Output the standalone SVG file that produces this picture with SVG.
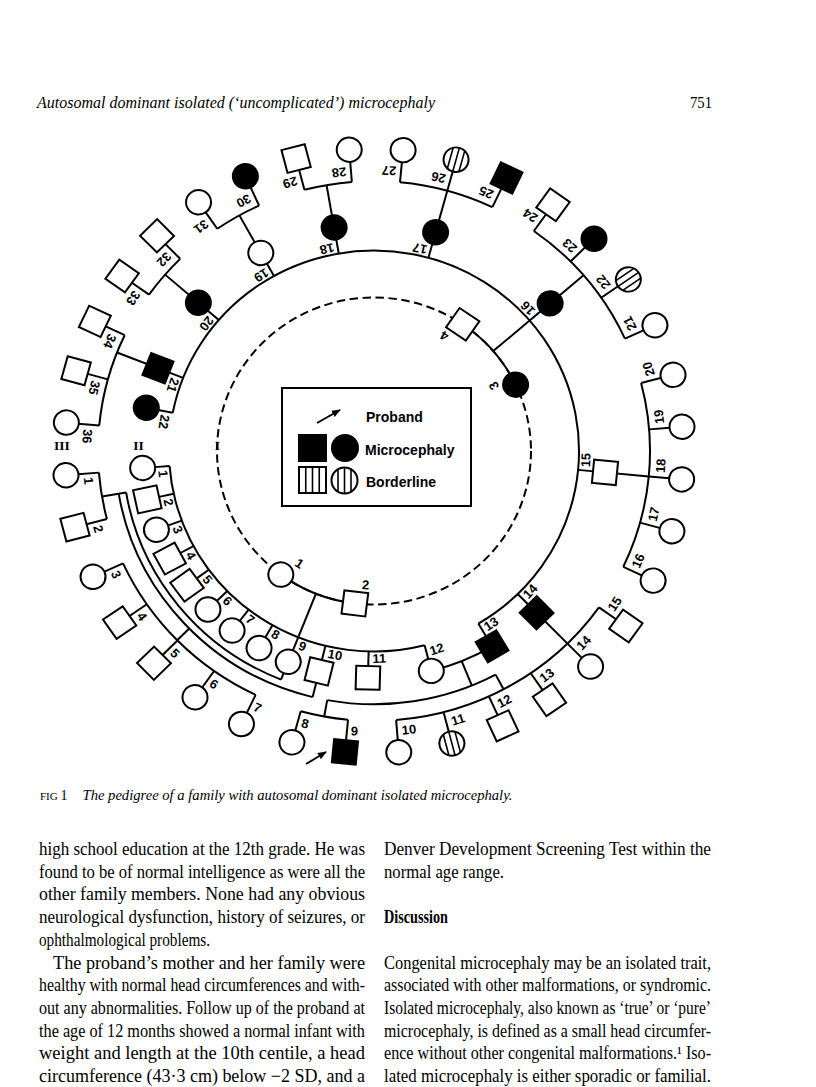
<svg xmlns="http://www.w3.org/2000/svg" width="816" height="1087" viewBox="0 0 816 1087">
<style>
.ln{fill:none;stroke:#000;stroke-width:2}
.o{fill:#fff;stroke:#000;stroke-width:2}
.f{fill:#000;stroke:#000;stroke-width:2}
.st{stroke:#000;stroke-width:1.6}
.lb{font-family:"Liberation Sans",Arial,sans-serif;font-weight:bold;font-size:13px;text-anchor:middle;dominant-baseline:central}
.lg{font-family:"Liberation Sans",Arial,sans-serif;font-weight:bold;font-size:14px}
.rn{font-family:"Liberation Serif","Times New Roman",serif;font-weight:bold;font-size:13.5px;text-anchor:middle}
.bt{font-family:"Liberation Serif","Times New Roman",serif;font-size:18px}
</style>
<defs>
<marker id="ah" viewBox="0 0 10 10" refX="9" refY="5" markerWidth="9" markerHeight="9" orient="auto" markerUnits="userSpaceOnUse"><path d="M0,1 L10,5 L0,9 z"/></marker>
<g id="sc"><circle cx="0" cy="0" r="12.5" class="o"/><line x1="-10.97" y1="-6" x2="10.97" y2="-6" class="st"/><line x1="-12.5" y1="0" x2="12.5" y2="0" class="st"/><line x1="-10.97" y1="6" x2="10.97" y2="6" class="st"/></g>
</defs>
<rect width="816" height="1087" fill="#fff"/>

<text x="37" y="108" font-family="Liberation Serif,serif" font-style="italic" font-size="16.5" textLength="398" lengthAdjust="spacingAndGlyphs">Autosomal dominant isolated (‘uncomplicated’) microcephaly</text>
<text x="690" y="108" font-family="Liberation Serif,serif" font-size="16.5" textLength="22" lengthAdjust="spacingAndGlyphs">751</text>

<g transform="translate(374 451) scale(1 0.978)">
<g id="connectors">
<circle r="157" class="ln" stroke-dasharray="8.5 4.5"/>
<circle r="157" class="ln" pathLength="360" stroke-dasharray="29.4 400" transform="rotate(97)"/>
<circle r="157" class="ln" pathLength="360" stroke-dasharray="30 400" transform="rotate(-55.6)"/>
<line x1="157" x2="205" class="ln" transform="rotate(111.7)"/>
<line x1="157" x2="205" class="ln" transform="rotate(-40.6)"/>
<circle r="205" class="ln" pathLength="360" stroke-dasharray="100 400" transform="rotate(75.7)"/>
<circle r="205" class="ln" pathLength="360" stroke-dasharray="228.4 400" transform="rotate(-169)"/>
<g class="ln">
<line x1="205" x2="220" transform="rotate(175.7)"/>
<line x1="205" x2="220" transform="rotate(167.7)"/>
<line x1="205" x2="220" transform="rotate(159.7)"/>
<line x1="205" x2="220" transform="rotate(151.7)"/>
<line x1="205" x2="220" transform="rotate(143.7)"/>
<line x1="205" x2="220" transform="rotate(135.7)"/>
<line x1="205" x2="220" transform="rotate(127.7)"/>
<line x1="205" x2="220" transform="rotate(119.7)"/>
<line x1="205" x2="251.5" transform="rotate(111.7)"/>
<line x1="205" x2="259" transform="rotate(103.7)"/>
<line x1="205" x2="220" transform="rotate(91.5)"/>
<line x1="205" x2="220" transform="rotate(75.7)"/>
<line x1="205" x2="220" transform="rotate(59.4)"/>
<line x1="205" x2="296.5" transform="rotate(45.5)"/>
<line x1="205" x2="276" transform="rotate(5.4)"/>
<line x1="205" x2="276" transform="rotate(-40.6)"/>
<line x1="205" x2="296.5" transform="rotate(-74.6)"/>
<line x1="205" x2="276" transform="rotate(-99.9)"/>
<line x1="205" x2="276" transform="rotate(-119.2)"/>
<line x1="205" x2="276" transform="rotate(-139.2)"/>
<line x1="205" x2="276" transform="rotate(-158.6)"/>
<line x1="205" x2="220" transform="rotate(-169)"/>
</g>
<circle r="251.5" class="ln" pathLength="360" stroke-dasharray="58.6 400" transform="rotate(111.7)"/>
<circle r="259" class="ln" pathLength="360" stroke-dasharray="66.6 400" transform="rotate(103.7)"/>
<line x1="251.5" x2="276" class="ln" transform="rotate(170.3)"/>
<line x1="259" x2="276" class="ln" transform="rotate(135.5)"/>
<circle r="232" class="ln" pathLength="360" stroke-dasharray="16.3 400" transform="rotate(59.4)"/>
<line x1="232" x2="259" class="ln" transform="rotate(67.8)"/>
<circle r="259" class="ln" pathLength="360" stroke-dasharray="38.4 400" transform="rotate(62)"/>
<line x1="259" x2="276" class="ln" transform="rotate(100.4)"/>
<line x1="259" x2="276" class="ln" transform="rotate(62)"/>
<g class="ln">
<circle r="276" pathLength="360" stroke-dasharray="10 400" transform="rotate(165.4)"/>
<circle r="276" pathLength="360" stroke-dasharray="40 400" transform="rotate(115.4)"/>
<circle r="276" pathLength="360" stroke-dasharray="10 400" transform="rotate(95.4)"/>
<circle r="276" pathLength="360" stroke-dasharray="50 400" transform="rotate(35.4)"/>
<circle r="276" pathLength="360" stroke-dasharray="40 400" transform="rotate(-14.6)"/>
<circle r="276" pathLength="360" stroke-dasharray="30 400" transform="rotate(-54.6)"/>
<circle r="276" pathLength="360" stroke-dasharray="20 400" transform="rotate(-84.6)"/>
<circle r="276" pathLength="360" stroke-dasharray="10 400" transform="rotate(-104.6)"/>
<circle r="276" pathLength="360" stroke-dasharray="10 400" transform="rotate(-124.6)"/>
<circle r="276" pathLength="360" stroke-dasharray="10 400" transform="rotate(-144.6)"/>
<circle r="276" pathLength="360" stroke-dasharray="20 400" transform="rotate(-174.6)"/>
<line x1="276" x2="297" transform="rotate(175.4)"/>
<line x1="276" x2="297" transform="rotate(165.4)"/>
<line x1="276" x2="297" transform="rotate(155.4)"/>
<line x1="276" x2="297" transform="rotate(145.4)"/>
<line x1="276" x2="297" transform="rotate(135.4)"/>
<line x1="276" x2="297" transform="rotate(125.4)"/>
<line x1="276" x2="297" transform="rotate(115.4)"/>
<line x1="276" x2="297" transform="rotate(105.4)"/>
<line x1="276" x2="297" transform="rotate(95.4)"/>
<line x1="276" x2="297" transform="rotate(85.4)"/>
<line x1="276" x2="297" transform="rotate(75.4)"/>
<line x1="276" x2="297" transform="rotate(65.4)"/>
<line x1="276" x2="297" transform="rotate(55.4)"/>
<line x1="276" x2="297" transform="rotate(35.4)"/>
<line x1="276" x2="297" transform="rotate(25.4)"/>
<line x1="276" x2="297" transform="rotate(15.4)"/>
<line x1="276" x2="297" transform="rotate(5.4)"/>
<line x1="276" x2="297" transform="rotate(-4.6)"/>
<line x1="276" x2="297" transform="rotate(-14.6)"/>
<line x1="276" x2="297" transform="rotate(-24.6)"/>
<line x1="276" x2="297" transform="rotate(-34.6)"/>
<line x1="276" x2="297" transform="rotate(-44.6)"/>
<line x1="276" x2="297" transform="rotate(-54.6)"/>
<line x1="276" x2="297" transform="rotate(-64.6)"/>
<line x1="276" x2="297" transform="rotate(-84.6)"/>
<line x1="276" x2="297" transform="rotate(-94.6)"/>
<line x1="276" x2="297" transform="rotate(-104.6)"/>
<line x1="276" x2="297" transform="rotate(-114.6)"/>
<line x1="276" x2="297" transform="rotate(-124.6)"/>
<line x1="276" x2="297" transform="rotate(-134.6)"/>
<line x1="276" x2="297" transform="rotate(-144.6)"/>
<line x1="276" x2="297" transform="rotate(-154.6)"/>
<line x1="276" x2="297" transform="rotate(-164.6)"/>
<line x1="276" x2="297" transform="rotate(-174.6)"/>
</g>
</g>

<g id="I-1"><circle cx="157" r="12.5" class="o" transform="rotate(126.4)"/><text class="lb" transform="rotate(122.9) translate(137 0) rotate(-90)">1</text></g>
<g id="I-2"><rect x="145" y="-12" width="24" height="24" class="o" transform="rotate(97)"/><text class="lb" transform="rotate(93.5) translate(137 0) rotate(-90)">2</text></g>
<g id="I-3"><circle cx="157" r="12.5" class="f" transform="rotate(-25.6)"/><text class="lb" transform="rotate(-29.1) translate(137 0) rotate(-90)">3</text></g>
<g id="I-4"><rect x="145" y="-12" width="24" height="24" class="o" transform="rotate(-55.6)"/><text class="lb" transform="rotate(-59.1) translate(137 0) rotate(-90)">4</text></g>

<g id="II-1"><circle cx="232" r="12.5" class="o" transform="rotate(175.7)"/><text class="lb" transform="rotate(173.7) translate(212 0) rotate(-90)">1</text></g>
<g id="II-2"><rect x="220" y="-12" width="24" height="24" class="o" transform="rotate(167.7)"/><text class="lb" transform="rotate(165.7) translate(212 0) rotate(-90)">2</text></g>
<g id="II-3"><circle cx="232" r="12.5" class="o" transform="rotate(159.7)"/><text class="lb" transform="rotate(157.7) translate(212 0) rotate(-90)">3</text></g>
<g id="II-4"><rect x="220" y="-12" width="24" height="24" class="o" transform="rotate(151.7)"/><text class="lb" transform="rotate(149.7) translate(212 0) rotate(-90)">4</text></g>
<g id="II-5"><rect x="220" y="-12" width="24" height="24" class="o" transform="rotate(143.7)"/><text class="lb" transform="rotate(141.7) translate(212 0) rotate(-90)">5</text></g>
<g id="II-6"><circle cx="232" r="12.5" class="o" transform="rotate(135.7)"/><text class="lb" transform="rotate(133.7) translate(212 0) rotate(-90)">6</text></g>
<g id="II-7"><circle cx="232" r="12.5" class="o" transform="rotate(127.7)"/><text class="lb" transform="rotate(125.7) translate(212 0) rotate(-90)">7</text></g>
<g id="II-8"><circle cx="232" r="12.5" class="o" transform="rotate(119.7)"/><text class="lb" transform="rotate(117.7) translate(212 0) rotate(-90)">8</text></g>
<g id="II-9"><circle cx="232" r="12.5" class="o" transform="rotate(111.7)"/><text class="lb" transform="rotate(109.7) translate(212 0) rotate(-90)">9</text></g>
<g id="II-10"><rect x="220" y="-12" width="24" height="24" class="o" transform="rotate(103.7)"/><text class="lb" transform="rotate(100.6) translate(212 0) rotate(-90)">10</text></g>
<g id="II-11"><rect x="220" y="-12" width="24" height="24" class="o" transform="rotate(91.5)"/><text class="lb" transform="rotate(88.6) translate(212 0) rotate(-90)">11</text></g>
<g id="II-12"><circle cx="232" r="12.5" class="o" transform="rotate(75.7)"/><text class="lb" transform="rotate(72.8) translate(212 0) rotate(-90)">12</text></g>
<g id="II-13"><rect x="220" y="-12" width="24" height="24" class="f" transform="rotate(59.4)"/><text class="lb" transform="rotate(56.5) translate(212 0) rotate(-90)">13</text></g>
<g id="II-14"><rect x="220" y="-12" width="24" height="24" class="f" transform="rotate(45.5)"/><text class="lb" transform="rotate(42.6) translate(212 0) rotate(-90)">14</text></g>
<g id="II-15"><rect x="220" y="-12" width="24" height="24" class="o" transform="rotate(5.4)"/><text class="lb" transform="rotate(2.5) translate(212 0) rotate(-90)">15</text></g>
<g id="II-16"><circle cx="232" r="12.5" class="f" transform="rotate(-40.6)"/><text class="lb" transform="rotate(-43.5) translate(212 0) rotate(-90)">16</text></g>
<g id="II-17"><circle cx="232" r="12.5" class="f" transform="rotate(-74.6)"/><text class="lb" transform="rotate(-77.5) translate(212 0) rotate(-90)">17</text></g>
<g id="II-18"><circle cx="232" r="12.5" class="f" transform="rotate(-99.9)"/><text class="lb" transform="rotate(-102.8) translate(212 0) rotate(-90)">18</text></g>
<g id="II-19"><circle cx="232" r="12.5" class="o" transform="rotate(-119.2)"/><text class="lb" transform="rotate(-122.1) translate(212 0) rotate(-90)">19</text></g>
<g id="II-20"><circle cx="232" r="12.5" class="f" transform="rotate(-139.2)"/><text class="lb" transform="rotate(-142.1) translate(212 0) rotate(-90)">20</text></g>
<g id="II-21"><rect x="220" y="-12" width="24" height="24" class="f" transform="rotate(-158.6)"/><text class="lb" transform="rotate(-161.5) translate(212 0) rotate(-90)">21</text></g>
<g id="II-22"><circle cx="232" r="12.5" class="f" transform="rotate(-169)"/><text class="lb" transform="rotate(-171.9) translate(212 0) rotate(-90)">22</text></g>

<g id="III-1"><circle cx="309" r="12.5" class="o" transform="rotate(175.4)"/><text class="lb" transform="rotate(173.9) translate(287 0) rotate(-90)">1</text></g>
<g id="III-2"><rect x="297" y="-12" width="24" height="24" class="o" transform="rotate(165.4)"/><text class="lb" transform="rotate(163.9) translate(287 0) rotate(-90)">2</text></g>
<g id="III-3"><circle cx="309" r="12.5" class="o" transform="rotate(155.4)"/><text class="lb" transform="rotate(153.9) translate(287 0) rotate(-90)">3</text></g>
<g id="III-4"><rect x="297" y="-12" width="24" height="24" class="o" transform="rotate(145.4)"/><text class="lb" transform="rotate(143.9) translate(287 0) rotate(-90)">4</text></g>
<g id="III-5"><rect x="297" y="-12" width="24" height="24" class="o" transform="rotate(135.4)"/><text class="lb" transform="rotate(133.9) translate(287 0) rotate(-90)">5</text></g>
<g id="III-6"><circle cx="309" r="12.5" class="o" transform="rotate(125.4)"/><text class="lb" transform="rotate(123.9) translate(287 0) rotate(-90)">6</text></g>
<g id="III-7"><circle cx="309" r="12.5" class="o" transform="rotate(115.4)"/><text class="lb" transform="rotate(113.9) translate(287 0) rotate(-90)">7</text></g>
<g id="III-8"><circle cx="309" r="12.5" class="o" transform="rotate(105.4)"/><text class="lb" transform="rotate(103.9) translate(287 0) rotate(-90)">8</text></g>
<g id="III-9"><rect x="297" y="-12" width="24" height="24" class="f" transform="rotate(95.4)"/><text class="lb" transform="rotate(93.9) translate(287 0) rotate(-90)">9</text></g>
<g id="III-10"><circle cx="309" r="12.5" class="o" transform="rotate(85.4)"/><text class="lb" transform="rotate(83) translate(287 0) rotate(-90)">10</text></g>
<g id="III-11"><use href="#sc" transform="rotate(75.4) translate(309 0)"/><text class="lb" transform="rotate(73) translate(287 0) rotate(-90)">11</text></g>
<g id="III-12"><rect x="297" y="-12" width="24" height="24" class="o" transform="rotate(65.4)"/><text class="lb" transform="rotate(63) translate(287 0) rotate(-90)">12</text></g>
<g id="III-13"><rect x="297" y="-12" width="24" height="24" class="o" transform="rotate(55.4)"/><text class="lb" transform="rotate(53) translate(287 0) rotate(-90)">13</text></g>
<g id="III-14"><circle cx="309" r="12.5" class="o" transform="rotate(45.5)"/><text class="lb" transform="rotate(43.1) translate(287 0) rotate(-90)">14</text></g>
<g id="III-15"><rect x="297" y="-12" width="24" height="24" class="o" transform="rotate(35.4)"/><text class="lb" transform="rotate(33) translate(287 0) rotate(-90)">15</text></g>
<g id="III-16"><circle cx="309" r="12.5" class="o" transform="rotate(25.4)"/><text class="lb" transform="rotate(23) translate(287 0) rotate(-90)">16</text></g>
<g id="III-17"><circle cx="309" r="12.5" class="o" transform="rotate(15.4)"/><text class="lb" transform="rotate(13) translate(287 0) rotate(-90)">17</text></g>
<g id="III-18"><circle cx="309" r="12.5" class="o" transform="rotate(5.4)"/><text class="lb" transform="rotate(3) translate(287 0) rotate(-90)">18</text></g>
<g id="III-19"><circle cx="309" r="12.5" class="o" transform="rotate(-4.6)"/><text class="lb" transform="rotate(-7) translate(287 0) rotate(-90)">19</text></g>
<g id="III-20"><circle cx="309" r="12.5" class="o" transform="rotate(-14.6)"/><text class="lb" transform="rotate(-17) translate(287 0) rotate(-90)">20</text></g>
<g id="III-21"><circle cx="309" r="12.5" class="o" transform="rotate(-24.6)"/><text class="lb" transform="rotate(-27) translate(287 0) rotate(-90)">21</text></g>
<g id="III-22"><use href="#sc" transform="rotate(-34.6) translate(309 0)"/><text class="lb" transform="rotate(-37) translate(287 0) rotate(-90)">22</text></g>
<g id="III-23"><circle cx="309" r="12.5" class="f" transform="rotate(-44.6)"/><text class="lb" transform="rotate(-47) translate(287 0) rotate(-90)">23</text></g>
<g id="III-24"><rect x="297" y="-12" width="24" height="24" class="o" transform="rotate(-54.6)"/><text class="lb" transform="rotate(-57) translate(287 0) rotate(-90)">24</text></g>
<g id="III-25"><rect x="297" y="-12" width="24" height="24" class="f" transform="rotate(-64.6)"/><text class="lb" transform="rotate(-67) translate(287 0) rotate(-90)">25</text></g>
<g id="III-26"><use href="#sc" transform="rotate(-74.6) translate(309 0)"/><text class="lb" transform="rotate(-77) translate(287 0) rotate(-90)">26</text></g>
<g id="III-27"><circle cx="309" r="12.5" class="o" transform="rotate(-84.6)"/><text class="lb" transform="rotate(-87) translate(287 0) rotate(-90)">27</text></g>
<g id="III-28"><circle cx="309" r="12.5" class="o" transform="rotate(-94.6)"/><text class="lb" transform="rotate(-97) translate(287 0) rotate(-90)">28</text></g>
<g id="III-29"><rect x="297" y="-12" width="24" height="24" class="o" transform="rotate(-104.6)"/><text class="lb" transform="rotate(-107) translate(287 0) rotate(-90)">29</text></g>
<g id="III-30"><circle cx="309" r="12.5" class="f" transform="rotate(-114.6)"/><text class="lb" transform="rotate(-117) translate(287 0) rotate(-90)">30</text></g>
<g id="III-31"><circle cx="309" r="12.5" class="o" transform="rotate(-124.6)"/><text class="lb" transform="rotate(-127) translate(287 0) rotate(-90)">31</text></g>
<g id="III-32"><rect x="297" y="-12" width="24" height="24" class="o" transform="rotate(-134.6)"/><text class="lb" transform="rotate(-137) translate(287 0) rotate(-90)">32</text></g>
<g id="III-33"><rect x="297" y="-12" width="24" height="24" class="o" transform="rotate(-144.6)"/><text class="lb" transform="rotate(-147) translate(287 0) rotate(-90)">33</text></g>
<g id="III-34"><rect x="297" y="-12" width="24" height="24" class="o" transform="rotate(-154.6)"/><text class="lb" transform="rotate(-157) translate(287 0) rotate(-90)">34</text></g>
<g id="III-35"><rect x="297" y="-12" width="24" height="24" class="o" transform="rotate(-164.6)"/><text class="lb" transform="rotate(-167) translate(287 0) rotate(-90)">35</text></g>
<g id="III-36"><circle cx="309" r="12.5" class="o" transform="rotate(-174.6)"/><text class="lb" transform="rotate(-177) translate(287 0) rotate(-90)">36</text></g>
</g>

<g id="gen-labels">
<text class="rn" x="62" y="450">III</text>
<text class="rn" x="138.5" y="450">II</text>
<text class="rn" x="217.5" y="450">I</text>
</g>

<g id="proband-arrow"><line x1="306" y1="764" x2="326" y2="752" class="ln" marker-end="url(#ah)"/></g>

<g id="legend">
<rect x="282" y="388" width="189" height="118" class="ln"/>
<line x1="317" y1="423" x2="340" y2="410" class="ln" marker-end="url(#ah)"/>
<text class="lg" x="366" y="422">Proband</text>
<rect x="299" y="435" width="27" height="26" class="f"/>
<circle cx="345" cy="448" r="13" class="f"/>
<text class="lg" x="365" y="455">Microcephaly</text>
<rect x="299" y="467" width="27" height="26" class="o"/>
<g class="st"><line x1="305.75" y1="467" x2="305.75" y2="493"/><line x1="312.5" y1="467" x2="312.5" y2="493"/><line x1="319.25" y1="467" x2="319.25" y2="493"/></g>
<circle cx="344.5" cy="480.5" r="13" class="o"/>
<g class="st"><line x1="338" y1="469.24" x2="338" y2="491.76"/><line x1="344.5" y1="467.5" x2="344.5" y2="493.5"/><line x1="351" y1="469.24" x2="351" y2="491.76"/></g>
<text class="lg" x="366" y="487">Borderline</text>
</g>

<text x="40" y="800" font-family="Liberation Serif,serif" font-size="11">FIG <tspan font-size="14">1</tspan></text>
<text x="82.5" y="800" font-family="Liberation Serif,serif" font-style="italic" font-size="15" textLength="430" lengthAdjust="spacingAndGlyphs">The pedigree of a family with autosomal dominant isolated microcephaly.</text>

<g class="bt">
<text x="39" y="855" textLength="326" lengthAdjust="spacingAndGlyphs">high school education at the 12th grade. He was</text>
<text x="39" y="877.7" textLength="326" lengthAdjust="spacingAndGlyphs">found to be of normal intelligence as were all the</text>
<text x="39" y="900.4" textLength="326" lengthAdjust="spacingAndGlyphs">other family members. None had any obvious</text>
<text x="39" y="923.1" textLength="326" lengthAdjust="spacingAndGlyphs">neurological dysfunction, history of seizures, or</text>
<text x="39" y="945.8" textLength="171" lengthAdjust="spacingAndGlyphs">ophthalmological problems.</text>
<text x="53" y="968.5" textLength="312" lengthAdjust="spacingAndGlyphs">The proband’s mother and her family were</text>
<text x="39" y="991.2" textLength="326" lengthAdjust="spacingAndGlyphs">healthy with normal head circumferences and with-</text>
<text x="39" y="1013.9" textLength="326" lengthAdjust="spacingAndGlyphs">out any abnormalities. Follow up of the proband at</text>
<text x="39" y="1036.6" textLength="326" lengthAdjust="spacingAndGlyphs">the age of 12 months showed a normal infant with</text>
<text x="39" y="1059.3" textLength="326" lengthAdjust="spacingAndGlyphs">weight and length at the 10th centile, a head</text>
<text x="39" y="1082" textLength="326" lengthAdjust="spacingAndGlyphs">circumference (43·3 cm) below −2 SD, and a</text>
<text x="384" y="855" textLength="327" lengthAdjust="spacingAndGlyphs">Denver Development Screening Test within the</text>
<text x="384" y="877.7" textLength="120" lengthAdjust="spacingAndGlyphs">normal age range.</text>
<text x="384" y="923.1" font-weight="bold" textLength="64" lengthAdjust="spacingAndGlyphs">Discussion</text>
<text x="384" y="968.5" textLength="327" lengthAdjust="spacingAndGlyphs">Congenital microcephaly may be an isolated trait,</text>
<text x="384" y="991.2" textLength="327" lengthAdjust="spacingAndGlyphs">associated with other malformations, or syndromic.</text>
<text x="384" y="1013.9" textLength="327" lengthAdjust="spacingAndGlyphs">Isolated microcephaly, also known as ‘true’ or ‘pure’</text>
<text x="384" y="1036.6" textLength="327" lengthAdjust="spacingAndGlyphs">microcephaly, is defined as a small head circumfer-</text>
<text x="384" y="1059.3" textLength="327" lengthAdjust="spacingAndGlyphs">ence without other congenital malformations.¹ Iso-</text>
<text x="384" y="1082" textLength="327" lengthAdjust="spacingAndGlyphs">lated microcephaly is either sporadic or familial.</text>
</g>
</svg>
